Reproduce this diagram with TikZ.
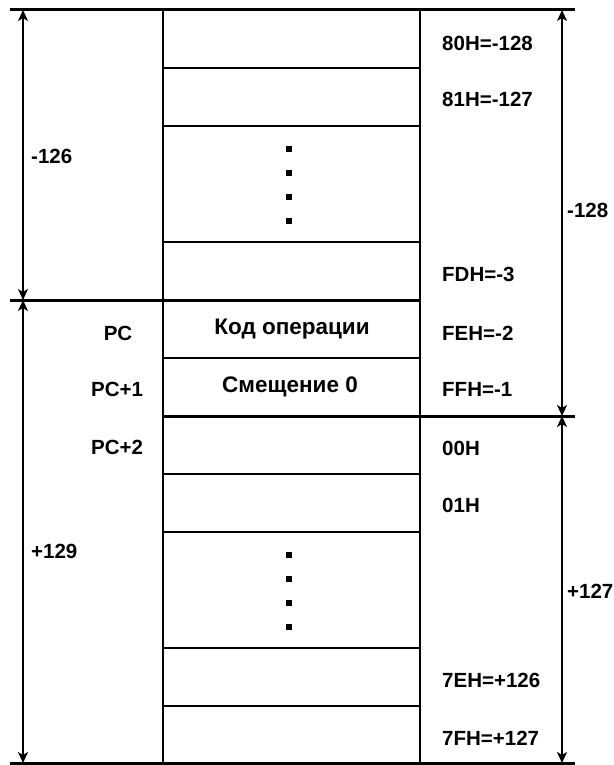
\documentclass[tikz,border=0pt]{standalone}
\usepackage{fontspec}
\setmainfont{Liberation Sans}
\usetikzlibrary{arrows.meta}
\tikzset{
  thick line/.style={line width=3pt},
  cell line/.style={line width=2.6pt},
  dim/.style={line width=1.6pt,{Stealth[length=11pt,width=10pt,inset=3pt]}-{Stealth[length=11pt,width=10pt,inset=3pt]}},
  lbl/.style={font=\fontsize{20.5}{24}\selectfont\bfseries,inner sep=0pt},
  cyr/.style={font=\fontsize{22.5}{26}\selectfont\bfseries,inner sep=0pt},
  lab/.style={lbl,anchor=west},
  dot/.style={fill=black,minimum size=6pt,inner sep=0pt}
}
\begin{document}
\begin{tikzpicture}[x=1pt,y=-1pt]
\useasboundingbox (0,0) rectangle (613,765);
% coordinates
\coordinate (TL) at (10,10);   \coordinate (TR) at (575,10);
\coordinate (ML) at (10,300);  \coordinate (MC) at (420,300);
\coordinate (NC) at (163,416); \coordinate (NR) at (575,416);
\coordinate (BL) at (10,763);  \coordinate (BR) at (575,763);
\coordinate (C1t) at (163,10); \coordinate (C1b) at (163,763);
\coordinate (C2t) at (420,10); \coordinate (C2b) at (420,763);
% main lines
\draw[thick line] (TL) -- (TR);
\draw[thick line] (ML) -- (MC);
\draw[thick line] (NC) -- (NR);
\draw[thick line] (BL) -- (BR);
\draw[cell line] (C1t) -- (C1b);
\draw[cell line] (C2t) -- (C2b);
\foreach \y in {68,126,242,358,474,532,648,706}
  \draw[cell line] (163,\y) -- (420,\y);
% dimension arrows
\coordinate (La) at (23,10);  \coordinate (Lb) at (23,300); \coordinate (Lc) at (23,763);
\coordinate (Ra) at (562,10); \coordinate (Rb) at (562,416); \coordinate (Rc) at (562,763);
\draw[dim] (La) -- (Lb);
\draw[dim] (Lb) -- (Lc);
\draw[dim] (Ra) -- (Rb);
\draw[dim] (Rb) -- (Rc);
% dots
\foreach \y [count=\i] in {149,173,197,221} \node[dot] (du\i) at (289,\y) {};
\foreach \y [count=\i] in {555,579,603,627} \node[dot] (dl\i) at (289,\y) {};
% left labels
\node[lab] (m126) at (31,156) {-126};
\node[lab] (p129) at (31,551) {+129};
\node[lbl] (pc) at (118,333) {PC};
\node[lbl] (pc1) at (117,389) {PC+1};
\node[lbl] (pc2) at (117,447) {PC+2};
% centre labels
\node[cyr] (kod) at (292,329) {Код операции};
\node[cyr] (sm) at (290,387) {Смещение 0};
% right labels
\node[lab] (r1) at (442,43) {80H=-128};
\node[lab] (r2) at (442,99) {81H=-127};
\node[lab] (r3) at (442,274) {FDH=-3};
\node[lab] (r4) at (442,333) {FEH=-2};
\node[lab] (r5) at (442,389) {FFH=-1};
\node[lab] (r6) at (442,448) {00H};
\node[lab] (r7) at (442,505) {01H};
\node[lab] (r8) at (442,680) {7EH=+126};
\node[lab] (r9) at (442,738) {7FH=+127};
\node[lab] (m128) at (567,210) {-128};
\node[lab] (p127) at (567,591) {+127};
\end{tikzpicture}
\end{document}
